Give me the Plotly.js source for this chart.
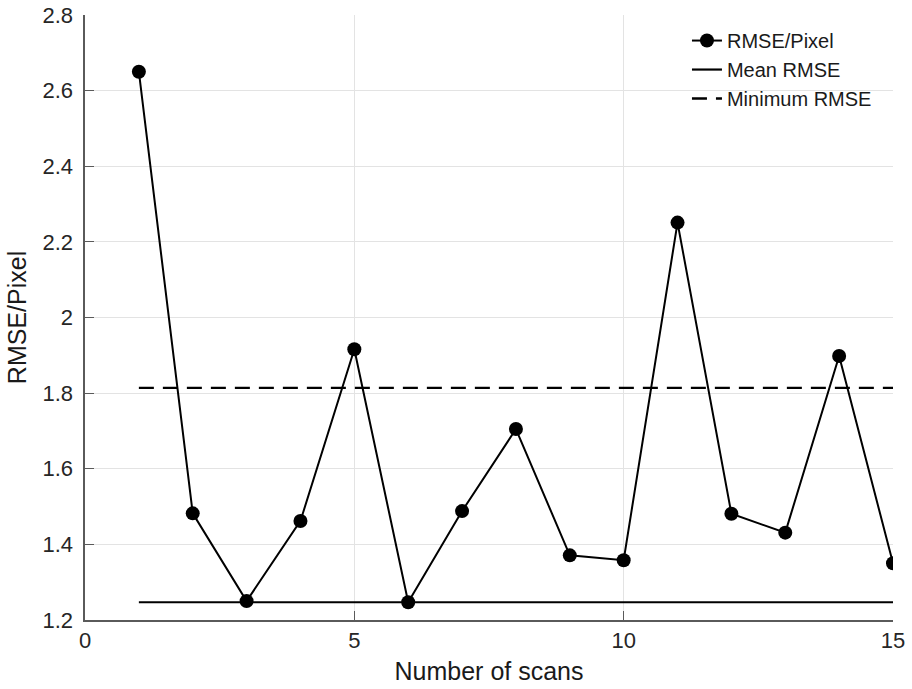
<!DOCTYPE html>
<html>
<head>
<meta charset="utf-8">
<script src="https://cdn.plot.ly/plotly-3.0.1.min.js"></script>
<style>body{margin:0;background:#fff}#chart{width:912px;height:689px}</style>
</head>
<body>
<div id="chart"></div>
<script>
const scans = [1,2,3,4,5,6,7,8,9,10,11,12,13,14,15];
const rmse = [2.65,1.482,1.25,1.462,1.916,1.247,1.488,1.705,1.371,1.358,2.251,1.481,1.431,1.898,1.35];
const meanRMSE = 1.247;
const minRMSE = 1.814;
const lineX = [1, 15];
const xTicks = [0, 5, 10, 15];
const yTicks = [1.2,1.4,1.6,1.8,2,2.2,2.4,2.6,2.8];
const yTickText = ['1.2','1.4','1.6','1.8','2','2.2','2.4','2.6','2.8'];

const font = "Liberation Sans, Arial, sans-serif";
const traces = [
  {x: scans, y: rmse, name: 'RMSE/Pixel', mode: 'lines+markers',
   line: {color: '#000', width: 2}, marker: {color: '#000', size: 14}},
  {x: lineX, y: lineX.map(() => meanRMSE), name: 'Mean RMSE', mode: 'lines',
   line: {color: '#000', width: 2.2}},
  {x: lineX, y: lineX.map(() => minRMSE), name: 'Minimum RMSE', mode: 'lines',
   line: {color: '#000', width: 2.4, dash: '15px,9px'}}
];
const layout = {
  width: 912, height: 689,
  margin: {l: 85, r: 19, t: 15, b: 69},
  paper_bgcolor: '#fff', plot_bgcolor: '#fff',
  font: {family: font, color: '#262626', size: 22},
  showlegend: true,
  legend: {x: 0.745, y: 0.99, xanchor: 'left', yanchor: 'top', bgcolor: 'rgba(255,255,255,0)',
           font: {size: 20, color: '#1a1a1a'}, tracegroupgap: 0},
  xaxis: {range: [0, 15], tickvals: xTicks, ticktext: xTicks.map(String),
          showgrid: true, gridcolor: '#e3e3e3', gridwidth: 1, zeroline: false,
          showline: true, linecolor: '#5a5a5a', linewidth: 1.6,
          ticks: 'inside', ticklen: 9, tickcolor: '#5a5a5a', tickwidth: 1.2,
          tickfont: {size: 22, color: '#262626'},
          title: {text: 'Number of scans', font: {size: 25, color: '#1a1a1a'}, standoff: 10}},
  yaxis: {range: [1.2, 2.8], tickvals: yTicks, ticktext: yTickText,
          showgrid: true, gridcolor: '#e3e3e3', gridwidth: 1, zeroline: false,
          showline: true, linecolor: '#5a5a5a', linewidth: 1.6,
          ticks: 'inside', ticklen: 9, tickcolor: '#5a5a5a', tickwidth: 1.2,
          ticklabelstandoff: 6,
          tickfont: {size: 22, color: '#262626'},
          title: {text: 'RMSE/Pixel', font: {size: 25, color: '#1a1a1a'}, standoff: 8}}
};
Plotly.newPlot('chart', traces, layout, {displayModeBar: false, staticPlot: true});
</script>
</body>
</html>
